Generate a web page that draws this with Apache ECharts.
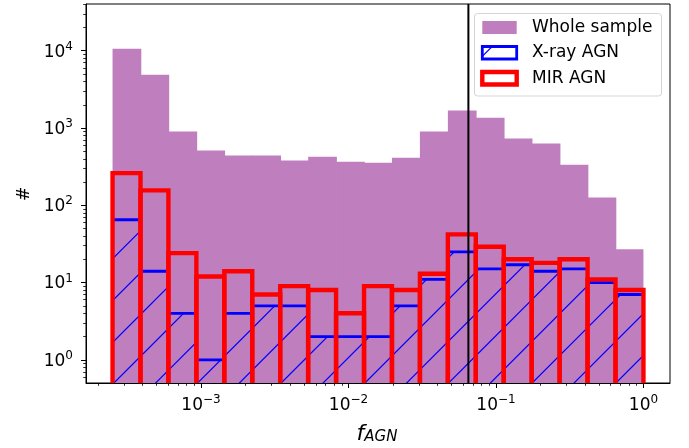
<!DOCTYPE html>
<html><head><meta charset="utf-8">
<script src="https://cdn.jsdelivr.net/npm/echarts@6/dist/echarts.min.js"></script>
<style>html,body{margin:0;padding:0;background:#fff}#c{width:689px;height:448px}</style>
</head><body><div id="c"></div>
<script>
// ---- data ----
const binEdges = [0.0002512, 0.0003886, 0.0006009, 0.0009298, 0.001438, 0.002225, 0.003442, 0.005325, 0.008237, 0.012744, 0.01971, 0.030497, 0.04718, 0.07298, 0.1129, 0.1746, 0.2701, 0.4179, 0.6465, 1.0];
const wholeSample = [10600, 4900, 900, 510, 440, 440, 380, 425, 365, 355, 412, 900, 1680, 1360, 730, 630, 335, 126, 27];
const xrayAGN = [65, 14, 4, 1, 4, 5, 5, 2, 2, 2, 5, 11, 25, 15, 17, 14, 15, 10, 7];
const mirAGN = [261, 156, 24, 12, 14, 7, 9, 8, 4, 9, 8, 13, 42, 29, 20, 18, 20, 11, 8];
const fAgnCut = 0.065;
const xTickExps = [-3, -2, -1, 0];
const yTickExps = [0, 1, 2, 3, 4];
const legendNames = ['Whole sample', 'X-ray AGN', 'MIR AGN'];

// axis extents (log10 units)
const xMin = -3.78, xMax = 0.18;
const yMin = -0.3, yMax = 4.605;

function minorTicks(lo, hi) {
  const out = [];
  for (let n = Math.floor(lo) - 1; n <= Math.ceil(hi); n++) {
    for (let k = 2; k <= 9; k++) {
      const v = n + Math.log10(k);
      if (v > lo && v < hi) out.push(v);
    }
  }
  return out;
}

// hatch pattern ('/' lines), aligned to the page
const T = 251, hs = T / 6, hoff = 36.7;
const hatch = document.createElement('canvas');
hatch.width = T; hatch.height = T;
(function () {
  const ctx = hatch.getContext('2d');
  ctx.strokeStyle = '#0000ff';
  ctx.lineWidth = 1.2;
  for (let k = -2; k <= 14; k++) {
    const c = hoff + k * hs;
    ctx.beginPath();
    ctx.moveTo(c + 10, -10);
    ctx.lineTo(-10, c + 10);
    ctx.stroke();
  }
})();
const hatchFill = { image: hatch, repeat: 'repeat' };

function histData(counts) {
  return counts.map((c, i) => [binEdges[i], binEdges[i + 1], c]);
}
function barRender(style, pad) {
  return function (params, api) {
    const lo = Math.log10(api.value(0));
    const hi = Math.log10(api.value(1));
    const top = Math.log10(api.value(2));
    const p0 = api.coord([lo, top]);
    const p1 = api.coord([hi, yMin - 1]);
    const last = params.dataIndex === params.dataInsideLength - 1;
    return {
      type: 'rect',
      shape: { x: p0[0], y: p0[1], width: p1[0] - p0[0] + (last ? 0 : pad), height: p1[1] - p0[1] },
      style: style
    };
  };
}

const FONT = 'DejaVu Sans';
const tickRich = {
  b: { fontSize: 17, fontFamily: FONT, color: '#000', lineHeight: 20, verticalAlign: 'bottom' },
  s: { fontSize: 12, fontFamily: FONT, color: '#000', lineHeight: 11, verticalAlign: 'top' }
};
function expLabel(v) {
  const e = Math.round(v);
  return '{b|10}{s|' + (e < 0 ? '\u2212' + (-e) : String(e)) + '}';
}

const chart = echarts.init(document.getElementById('c'), null, { renderer: 'canvas' });
chart.setOption({
  animation: false,
  backgroundColor: '#fff',
  grid: { left: 86, top: 4, right: 19, bottom: 65, show: true, borderColor: '#000', borderWidth: 1, backgroundColor: 'transparent', containLabel: false, outerBoundsMode: 'none' },
  xAxis: [
    {
      type: 'value', min: xMin, max: xMax, position: 'bottom',
      axisLine: { show: true, onZero: false, lineStyle: { color: '#000', width: 1 } },
      axisTick: { show: true, customValues: xTickExps, length: 5, inside: false, lineStyle: { color: '#000', width: 1 } },
      axisLabel: { show: true, customValues: xTickExps, margin: 11, formatter: expLabel, rich: tickRich },
      splitLine: { show: false }
    },
    {
      type: 'value', min: xMin, max: xMax, position: 'bottom',
      axisLine: { show: false, onZero: false },
      axisTick: { show: true, customValues: minorTicks(xMin, xMax), length: 2.8, lineStyle: { color: '#000', width: 0.8 } },
      axisLabel: { show: false },
      splitLine: { show: false }
    }
  ],
  yAxis: [
    {
      type: 'value', min: yMin, max: yMax, position: 'left',
      axisLine: { show: true, onZero: false, lineStyle: { color: '#000', width: 1 } },
      axisTick: { show: true, customValues: yTickExps, length: 5, lineStyle: { color: '#000', width: 1 } },
      axisLabel: { show: true, customValues: yTickExps, margin: 13, formatter: expLabel, rich: tickRich },
      splitLine: { show: false }
    },
    {
      type: 'value', min: yMin, max: yMax, position: 'left',
      axisLine: { show: false, onZero: false },
      axisTick: { show: true, customValues: minorTicks(yMin, yMax), length: 2.8, lineStyle: { color: '#000', width: 0.8 } },
      axisLabel: { show: false },
      splitLine: { show: false }
    }
  ],
  series: [
    {
      name: legendNames[0], type: 'custom', clip: true, xAxisIndex: 0, yAxisIndex: 0,
      renderItem: barRender({ fill: '#bf7fbf', stroke: null, lineWidth: 0 }, 0.8),
      data: histData(wholeSample), z: 1
    },
    {
      name: legendNames[1], type: 'custom', clip: true, xAxisIndex: 0, yAxisIndex: 0,
      renderItem: barRender({ fill: hatchFill, stroke: '#0000ff', lineWidth: 2.8 }, 0),
      data: histData(xrayAGN), z: 2
    },
    {
      name: legendNames[2], type: 'custom', clip: true, xAxisIndex: 0, yAxisIndex: 0,
      renderItem: barRender({ fill: null, stroke: '#ff0000', lineWidth: 4.4 }, 0),
      data: histData(mirAGN), z: 3
    },
    {
      name: 'cut', type: 'custom', clip: true, xAxisIndex: 0, yAxisIndex: 0,
      renderItem: function (params, api) {
        const x = Math.log10(api.value(0));
        const a = api.coord([x, yMax]);
        const b = api.coord([x, yMin]);
        return { type: 'line', shape: { x1: a[0], y1: a[1], x2: b[0], y2: b[1] }, style: { stroke: '#000', lineWidth: 2 } };
      },
      data: [[fAgnCut]], z: 4
    }
  ],
  graphic: [
    // legend
    { type: 'rect', z: 100, shape: { x: 474.5, y: 13.5, width: 187, height: 82.5, r: 3 }, style: { fill: 'rgba(255,255,255,0.8)', stroke: '#d5d5d5', lineWidth: 1 } },
    { type: 'rect', z: 101, shape: { x: 482.3, y: 21, width: 34.4, height: 13 }, style: { fill: '#bf7fbf' } },
    { type: 'rect', z: 101, shape: { x: 482.3, y: 46.5, width: 34.4, height: 12.5 }, style: { fill: hatchFill, stroke: '#0000ff', lineWidth: 2.8 } },
    { type: 'rect', z: 101, shape: { x: 482.3, y: 72, width: 34.4, height: 12.5 }, style: { fill: null, stroke: '#ff0000', lineWidth: 4.4 } },
    { type: 'text', z: 101, x: 532, y: 27.5, style: { text: legendNames[0], fontSize: 17, fontFamily: FONT, fill: '#000', verticalAlign: 'middle', align: 'left' } },
    { type: 'text', z: 101, x: 532, y: 53, style: { text: legendNames[1], fontSize: 17, fontFamily: FONT, fill: '#000', verticalAlign: 'middle', align: 'left' } },
    { type: 'text', z: 101, x: 532, y: 78.5, style: { text: legendNames[2], fontSize: 17, fontFamily: FONT, fill: '#000', verticalAlign: 'middle', align: 'left' } },
    // axis titles
    { type: 'text', z: 101, x: 25, y: 194, rotation: Math.PI / 2, style: { text: '#', fontSize: 17, fontFamily: FONT, fill: '#000', align: 'center', verticalAlign: 'middle' } },
    { type: 'text', z: 101, x: 377, y: 433, style: {
        text: '{i|f}{u|AGN}', align: 'center', verticalAlign: 'middle',
        rich: {
          i: { fontSize: 22, fontStyle: 'italic', fontFamily: FONT, fill: '#000', lineHeight: 24, verticalAlign: 'bottom' },
          u: { fontSize: 15, fontStyle: 'italic', fontFamily: FONT, fill: '#000', lineHeight: 16, verticalAlign: 'bottom' }
        } } }
  ]
});
</script>
</body></html>
